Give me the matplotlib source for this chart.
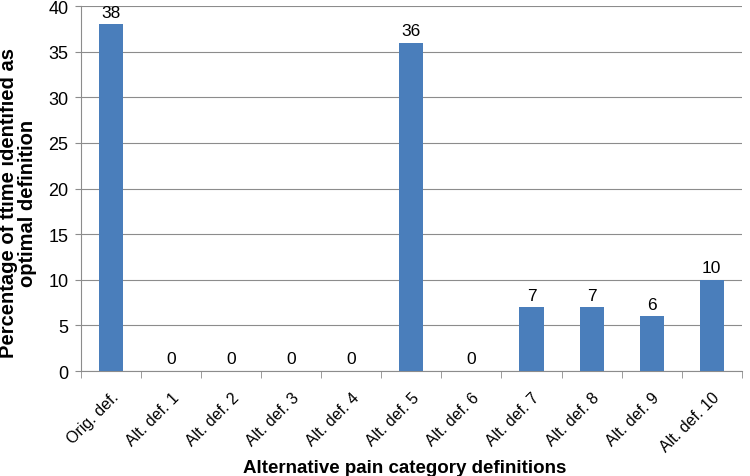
import numpy as np
import matplotlib.pyplot as plt

plt.rcParams['font.family'] = ['Liberation Sans', 'DejaVu Sans']

categories = ['Orig. def.', 'Alt. def. 1', 'Alt. def. 2', 'Alt. def. 3', 'Alt. def. 4',
              'Alt. def. 5', 'Alt. def. 6', 'Alt. def. 7', 'Alt. def. 8', 'Alt. def. 9',
              'Alt. def. 10']
values = [38, 0, 0, 0, 0, 36, 0, 7, 7, 6, 10]

fig = plt.figure(figsize=(7.5, 4.77), dpi=100)
ax = fig.add_axes([0.108, 0.22, 0.881, 0.765])

x = np.arange(len(categories))
bars = ax.bar(x, values, width=0.4, color='#4a7ebb', zorder=3)
for xi, v in zip(x, values):
    ax.text(xi, v + 0.5, str(v), ha='center', va='bottom', fontsize=12.5)

ax.set_xlim(-0.5, len(categories) - 0.5)
ax.set_ylim(0, 40)
ax.set_yticks(np.arange(0, 41, 5))
ax.yaxis.grid(True, color='#8c8c8c', linewidth=0.8, zorder=0)

ax.set_xticks(x)
ax.set_xticklabels(categories, rotation=45, ha='right', rotation_mode='anchor', fontsize=11.5)
ax.tick_params(axis='x', length=0, pad=13)
ax.set_xticks(np.arange(-0.5, len(categories)), minor=True)
ax.tick_params(axis='x', which='minor', length=5, color='#8c8c8c')
ax.tick_params(axis='y', labelsize=13, length=4, color='#8c8c8c', pad=5)

for s in ['top', 'right']:
    ax.spines[s].set_visible(False)
ax.spines['left'].set_color('#8c8c8c')
ax.spines['bottom'].set_color('#8c8c8c')

ax.set_ylabel('Percentage of ttime identified as\noptimal definition', fontsize=14.5,
              fontweight='bold', linespacing=1.05)
ax.yaxis.set_label_coords(-0.066, 0.463)
ax.set_xlabel('Alternative pain category definitions', fontsize=13.5, fontweight='bold')
ax.xaxis.set_label_coords(0.49, -0.24)

fig.savefig('out.png', dpi=100)
